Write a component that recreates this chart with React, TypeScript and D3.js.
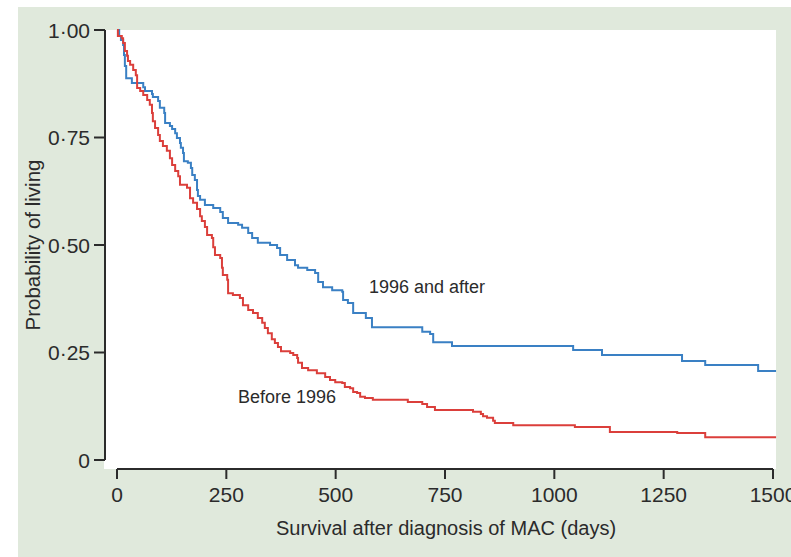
import React from 'react';
import { scaleLinear, line, curveStepAfter } from 'd3';

// Kaplan-Meier steps: day of each drop and survival after it
const afterDays = [0, 5, 9, 14, 16, 18, 21, 34, 60, 64, 80, 82, 94, 98, 108, 110, 121, 126, 133, 137, 144, 146, 151, 153, 162, 169, 172, 178, 183, 185, 190, 201, 220, 236, 242, 254, 277, 286, 300, 309, 322, 350, 366, 373, 389, 407, 414, 435, 453, 460, 471, 492, 515, 517, 528, 540, 569, 583, 698, 716, 723, 766, 1043, 1109, 1292, 1345, 1466, 1507];
const afterSurv = [1, 0.986, 0.977, 0.965, 0.942, 0.916, 0.888, 0.877, 0.867, 0.858, 0.851, 0.844, 0.835, 0.819, 0.807, 0.784, 0.777, 0.770, 0.760, 0.749, 0.737, 0.726, 0.714, 0.695, 0.691, 0.679, 0.663, 0.651, 0.628, 0.614, 0.605, 0.593, 0.586, 0.577, 0.563, 0.551, 0.547, 0.540, 0.528, 0.516, 0.505, 0.500, 0.493, 0.477, 0.465, 0.453, 0.447, 0.442, 0.435, 0.414, 0.402, 0.395, 0.391, 0.372, 0.365, 0.342, 0.330, 0.309, 0.298, 0.293, 0.274, 0.265, 0.256, 0.244, 0.230, 0.221, 0.207, 0.207];

const beforeDays = [0, 2, 11, 14, 18, 23, 25, 30, 37, 43, 46, 53, 60, 69, 75, 80, 82, 87, 94, 98, 105, 114, 121, 126, 133, 140, 144, 160, 167, 174, 183, 190, 194, 201, 206, 217, 220, 224, 236, 240, 242, 252, 254, 265, 281, 288, 300, 311, 322, 332, 338, 345, 354, 361, 368, 375, 396, 403, 412, 414, 423, 437, 457, 476, 487, 499, 515, 521, 533, 540, 549, 556, 567, 585, 665, 698, 709, 727, 814, 832, 837, 846, 860, 864, 906, 1047, 1127, 1281, 1345, 1507];
const beforeSurv = [1, 0.986, 0.981, 0.970, 0.951, 0.940, 0.928, 0.919, 0.907, 0.895, 0.865, 0.858, 0.849, 0.837, 0.826, 0.807, 0.788, 0.772, 0.756, 0.742, 0.730, 0.719, 0.702, 0.686, 0.672, 0.660, 0.640, 0.633, 0.609, 0.598, 0.584, 0.567, 0.556, 0.542, 0.523, 0.516, 0.495, 0.477, 0.470, 0.447, 0.430, 0.419, 0.388, 0.384, 0.377, 0.360, 0.349, 0.342, 0.330, 0.319, 0.307, 0.295, 0.281, 0.272, 0.263, 0.253, 0.249, 0.244, 0.237, 0.226, 0.214, 0.209, 0.202, 0.193, 0.186, 0.181, 0.179, 0.170, 0.167, 0.158, 0.156, 0.147, 0.144, 0.140, 0.135, 0.130, 0.123, 0.116, 0.112, 0.107, 0.102, 0.098, 0.091, 0.086, 0.081, 0.077, 0.065, 0.063, 0.053, 0.053];

const xTicks = [0, 250, 500, 750, 1000, 1250, 1500];
const yTicks = [0, 0.25, 0.5, 0.75, 1];
const yTickLabels = ['0', '0·25', '0·50', '0·75', '1·00'];

const seriesLabels = ['1996 and after', 'Before 1996'];

const BLUE = '#3a80c4';
const RED = '#db3f3b';
const INK = '#2b2b2b';
const FONT = '"Liberation Sans", Arial, sans-serif';

export default function App() {
  const x = scaleLinear().domain([0, 1500]).range([117, 773]);
  const y = scaleLinear().domain([0, 1]).range([460, 30]);

  const stepLine = line<[number, number]>()
    .x(d => x(d[0]))
    .y(d => y(d[1]))
    .curve(curveStepAfter);

  const afterPts = afterDays.map((d, i) => [d, afterSurv[i]] as [number, number]);
  const beforePts = beforeDays.map((d, i) => [d, beforeSurv[i]] as [number, number]);

  return (
    <svg width={791} height={557} style={{ position: 'absolute', left: 0, top: 0 }} fontFamily={FONT}>
      <rect x={18} y={7} width={773} height={550} fill="#e0e9dc" />
      <rect x={104} y={30} width={672} height={439} fill="#ffffff" />

      {/* y axis */}
      <line x1={105} x2={105} y1={y(1)} y2={y(0)} stroke={INK} strokeWidth={2} />
      {yTicks.map((t, i) => (
        <g key={t}>
          <line x1={94} x2={105} y1={y(t)} y2={y(t)} stroke={INK} strokeWidth={2} />
          <text x={90} y={y(t) + 7.5} textAnchor="end" fontSize={21} fill={INK}>{yTickLabels[i]}</text>
        </g>
      ))}
      <text transform={`translate(40,${y(0.5)}) rotate(-90)`} textAnchor="middle" fontSize={20.5} fill={INK}>
        Probability of living
      </text>

      {/* x axis */}
      <line x1={x(0)} x2={x(1500)} y1={469} y2={469} stroke={INK} strokeWidth={2} />
      {xTicks.map(t => (
        <g key={t}>
          <line x1={x(t)} x2={x(t)} y1={469} y2={479} stroke={INK} strokeWidth={2} />
          <text x={x(t)} y={502} textAnchor="middle" fontSize={21} fill={INK}>{t}</text>
        </g>
      ))}
      <text x={446} y={535} textAnchor="middle" fontSize={20} fill={INK}>
        Survival after diagnosis of MAC (days)
      </text>

      <path d={stepLine(afterPts) || ''} fill="none" stroke={BLUE} strokeWidth={2} />
      <path d={stepLine(beforePts) || ''} fill="none" stroke={RED} strokeWidth={2} />

      <text x={369} y={293} fontSize={18} fill={INK}>{seriesLabels[0]}</text>
      <text x={238} y={403} fontSize={18} fill={INK}>{seriesLabels[1]}</text>
    </svg>
  );
}
